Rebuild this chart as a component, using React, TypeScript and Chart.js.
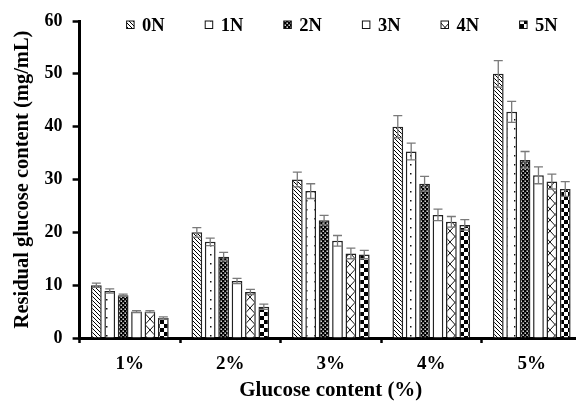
import React, { useEffect, useRef } from 'react';
import { Chart, registerables } from 'chart.js';

Chart.register(...registerables);

// Glucose levels tested (x categories)
const categories = ['1%', '2%', '3%', '4%', '5%'];
const seriesNames = ['0N', '1N', '2N', '3N', '4N', '5N'];

// Residual glucose content (mg/mL), one array per treatment
const values0N = [10.0, 20.0, 30.0, 40.0, 50.0];
const values1N = [8.9, 18.2, 27.8, 35.3, 42.8];
const values2N = [8.1, 15.4, 22.3, 29.2, 33.7];
const values3N = [5.0, 10.8, 18.4, 23.3, 30.8];
const values4N = [5.0, 8.7, 16.0, 22.0, 29.6];
const values5N = [3.8, 5.9, 15.8, 21.4, 28.2];

// Standard deviations for the error bars
const errors0N = [0.4, 0.9, 1.4, 2.1, 2.5];
const errors1N = [0.4, 0.7, 1.4, 1.6, 2.0];
const errors2N = [0.2, 0.8, 0.9, 1.4, 1.6];
const errors3N = [0.2, 0.5, 1.0, 1.1, 1.6];
const errors4N = [0.2, 0.5, 1.0, 1.0, 1.4];
const errors5N = [0.2, 0.5, 0.8, 1.0, 1.4];

const yMin = 0;
const yMax = 60;
const yStep = 10;

const FONT_FAMILY = '"Liberation Serif", "Times New Roman", Times, serif';

function makePattern(w: number, h: number, draw: (g: CanvasRenderingContext2D) => void): CanvasPattern | string {
  const c = document.createElement('canvas');
  c.width = w;
  c.height = h;
  const g = c.getContext('2d');
  if (!g) return '#fff';
  g.fillStyle = '#fff';
  g.fillRect(0, 0, w, h);
  draw(g);
  return g.createPattern(c, 'repeat') || '#fff';
}

function buildFills(): (CanvasPattern | string)[] {
  // back-diagonal stripes
  const stripes = makePattern(4, 4, (g) => {
    g.strokeStyle = '#000';
    g.lineWidth = 1;
    g.beginPath();
    g.moveTo(-1, -1);
    g.lineTo(5, 5);
    g.moveTo(3, -1);
    g.lineTo(5, 1);
    g.moveTo(-1, 3);
    g.lineTo(1, 5);
    g.stroke();
  });
  // sparse dots
  const dots = makePattern(8, 9, (g) => {
    g.fillStyle = '#111';
    g.fillRect(2, 2, 1.5, 1.5);
  });
  // dark with small white dots
  const darkDots = makePattern(4, 4, (g) => {
    g.fillStyle = '#000';
    g.fillRect(0, 0, 4, 4);
    g.fillStyle = '#fff';
    g.fillRect(0.5, 0.5, 1.4, 1.4);
    g.fillRect(2.5, 2.5, 1.4, 1.4);
  });
  // cross-hatched diamonds
  const diamonds = makePattern(10, 11, (g) => {
    g.strokeStyle = '#111';
    g.lineWidth = 1;
    g.beginPath();
    g.moveTo(0, 0);
    g.lineTo(10, 11);
    g.moveTo(10, 0);
    g.lineTo(0, 11);
    g.stroke();
  });
  // checkerboard
  const checker = makePattern(8, 8, (g) => {
    g.fillStyle = '#000';
    g.fillRect(0, 0, 4, 4);
    g.fillRect(4, 4, 4, 4);
  });
  return [stripes, dots, darkDots, '#ffffff', diamonds, checker];
}

const errorBarPlugin = {
  id: 'errorBars',
  afterDatasetsDraw(chart: any) {
    const { ctx } = chart;
    const yScale = chart.scales.y;
    ctx.save();
    ctx.strokeStyle = '#7a7a7a';
    ctx.lineWidth = 1.3;
    chart.data.datasets.forEach((ds: any, i: number) => {
      const meta = chart.getDatasetMeta(i);
      meta.data.forEach((bar: any, j: number) => {
        const v = ds.data[j];
        const e = ds.errors[j];
        const x = bar.x;
        const top = yScale.getPixelForValue(v + e);
        const bot = yScale.getPixelForValue(v - e);
        const half = 4.5;
        ctx.beginPath();
        ctx.moveTo(x, top);
        ctx.lineTo(x, bot);
        ctx.moveTo(x - half, top);
        ctx.lineTo(x + half, top);
        ctx.moveTo(x - half, bot);
        ctx.lineTo(x + half, bot);
        ctx.stroke();
      });
    });
    ctx.restore();
  },
};

const patternLegendPlugin = {
  id: 'patternLegend',
  afterDraw(chart: any) {
    const { ctx, chartArea } = chart;
    const box = 7.5;
    const step = 78.6;
    ctx.save();
    ctx.font = `bold 18.5px ${FONT_FAMILY}`;
    ctx.textBaseline = 'middle';
    ctx.textAlign = 'left';
    chart.data.datasets.forEach((ds: any, i: number) => {
      const x = chartArea.left + 47 + i * step;
      const y = 21;
      ctx.fillStyle = ds.backgroundColor;
      ctx.fillRect(x, y, box, box);
      ctx.strokeStyle = '#111';
      ctx.lineWidth = 1;
      ctx.strokeRect(x, y, box, box);
      ctx.fillStyle = '#000';
      ctx.fillText(ds.label, x + box + 8, y + 5.5);
    });
    ctx.restore();
  },
};

export default function App() {
  const canvasRef = useRef<HTMLCanvasElement | null>(null);

  useEffect(() => {
    const canvas = canvasRef.current;
    if (!canvas) return;
    const fills = buildFills();
    const seriesValues = [values0N, values1N, values2N, values3N, values4N, values5N];
    const seriesErrors = [errors0N, errors1N, errors2N, errors3N, errors4N, errors5N];

    const chart = new Chart(canvas, {
      type: 'bar',
      data: {
        labels: categories,
        datasets: seriesNames.map((name, i) => ({
          label: name,
          data: seriesValues[i],
          errors: seriesErrors[i],
          backgroundColor: fills[i],
          borderColor: '#222',
          borderWidth: 1.5,
          categoryPercentage: 0.8,
          barPercentage: 0.8,
        })) as any,
      },
      options: {
        responsive: false,
        animation: false,
        layout: { padding: { top: 21, right: 8, left: 0, bottom: 0 } },
        plugins: {
          legend: { display: false },
          tooltip: { enabled: false },
        },
        scales: {
          x: {
            grid: {
              display: true,
              drawOnChartArea: false,
              drawTicks: true,
              tickLength: 5,
              tickWidth: 2.5,
              tickColor: '#000',
            },
            border: { display: true, color: '#000', width: 3 },
            ticks: {
              color: '#000',
              padding: 10,
              font: { family: FONT_FAMILY, size: 19, weight: 'bold' },
            },
            title: {
              display: true,
              text: 'Glucose content (%)',
              color: '#000',
              font: { family: FONT_FAMILY, size: 21, weight: 'bold' },
              padding: { top: -8, bottom: -2 },
            },
          },
          y: {
            min: yMin,
            max: yMax,
            grid: {
              display: true,
              drawOnChartArea: false,
              drawTicks: true,
              tickLength: 7,
              tickWidth: 2.5,
              tickColor: '#000',
            },
            border: { display: true, color: '#000', width: 3 },
            ticks: {
              stepSize: yStep,
              color: '#000',
              padding: 10,
              font: { family: FONT_FAMILY, size: 18, weight: 'bold' },
            },
            title: {
              display: true,
              text: 'Residual glucose content (mg/mL)',
              color: '#000',
              font: { family: FONT_FAMILY, size: 20.5, weight: 'bold' },
              padding: { top: 10, bottom: 0 },
            },
          },
        },
      },
      plugins: [errorBarPlugin, patternLegendPlugin],
    });

    return () => chart.destroy();
  }, []);

  return (
    <div
      style={{
        position: 'fixed',
        left: 0,
        top: 0,
        width: 576,
        height: 401,
        overflow: 'hidden',
        background: '#fff',
      }}
    >
      <canvas ref={canvasRef} width={590} height={401} style={{ display: 'block' }} />
    </div>
  );
}
